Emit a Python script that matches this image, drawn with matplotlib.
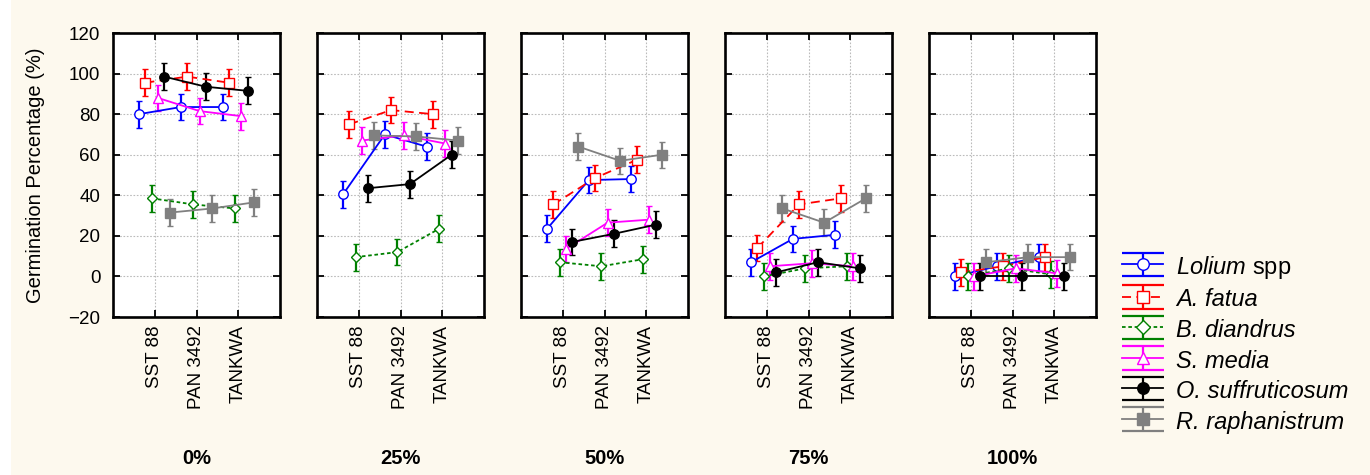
import numpy as np
import matplotlib
matplotlib.use("Agg")
import matplotlib.pyplot as plt
from matplotlib.container import ErrorbarContainer
from matplotlib.legend_handler import HandlerErrorbar
from matplotlib.patches import Rectangle

plt.rcParams['font.family'] = ['Liberation Sans', 'DejaVu Sans']
plt.rcParams['mathtext.fontset'] = 'custom'
plt.rcParams['mathtext.it'] = 'Liberation Sans:italic'
plt.rcParams['mathtext.rm'] = 'Liberation Sans'

# cultivars on the x axis, one panel per concentration
cultivars = ['SST 88', 'PAN 3492', 'TANKWA']
panels = ['0%', '25%', '50%', '75%', '100%']

species = [r'$\mathit{Lolium}$ spp', 'A. fatua', 'B. diandrus',
           'S. media', 'O. suffruticosum', 'R. raphanistrum']

# mean germination (%) per species, rows = panels, cols = cultivars
lolium = [[80, 83.5, 83.5], [40.5, 70, 64], [23.5, 47.5, 48], [7, 18.5, 20.5], [0, 5, 9.5]]
fatua = [[95.5, 98.5, 95.5], [75, 82, 80], [35.5, 48.5, 57.5], [14, 35.5, 38.5], [2, 5, 9.5]]
diandrus = [[38.5, 35.5, 33.5], [9.5, 12, 23.5], [7, 5, 8.5], [0, 4, 5], [0, 4, 1]]
media = [[88, 81.5, 79], [67, 69.5, 65.5], [13.5, 26.5, 28], [5, 6.5, 5], [0, 4, 1.5]]
suffrut = [[98.5, 93.5, 91.5], [43.5, 45.5, 60], [17, 21, 25.5], [2, 7, 4], [0, 0, 0]]
raphan = [[31.5, 33.5, 36.5], [69.5, 69, 67], [64, 57, 60], [33.5, 26.5, 38.5], [7, 9.5, 9.5]]
means = [lolium, fatua, diandrus, media, suffrut, raphan]

# error bar half-widths per species
errs = [6.6, 6.6, 6.6, 6.6, 6.6, 6.5]

colors = ['#0000FF', '#FF0000', '#008000', '#FF00FF', '#000000', '#808080']
markers = ['o', 's', 'D', '^', 'o', 's']
mfc = ['white', 'white', 'white', 'white', '#000000', '#808080']
msz = [6.8, 6.8, 5.3, 6.8, 6.8, 6.8]
lstyles = ['-', (0, (5, 3)), (0, (2, 1.5)), '-', '-', '-']
offsets = np.linspace(-0.375, 0.375, 6)

fig = plt.figure(figsize=(13.7, 4.75), dpi=100)
fig.patch.set_facecolor('#FDF9EE')
fig.patches.append(Rectangle((0, 0), 11 / 1370, 1, transform=fig.transFigure,
                             facecolor='white', edgecolor='none', zorder=0))

W, H = 1370, 475
lefts = [113, 317, 521, 725, 929]
x = np.arange(1, 4)
axes = []
for p, left in enumerate(lefts):
    ax = fig.add_axes([left / W, (H - 317) / H, 167 / W, 284 / H])
    ax.set_facecolor('white')
    for s in range(6):
        y = means[s][p]
        ax.errorbar(x + offsets[s], y, yerr=errs[s], color=colors[s], ls=lstyles[s],
                    lw=1.3, elinewidth=1.6, capsize=2.4, capthick=1.6,
                    marker=markers[s], ms=msz[s], mfc=mfc[s], mec=colors[s], mew=1.0,
                    zorder=3)
    ax.set_xlim(0, 4)
    ax.set_ylim(-20, 120)
    ax.set_yticks(np.arange(-20, 121, 20))
    ax.set_xticks(x)
    ax.set_xticklabels(cultivars, rotation=90, fontsize=13.5)
    ax.grid(True, ls=(0, (1.5, 1.5)), color='#BBBBBB', lw=0.8)
    ax.tick_params(direction='in', length=5, width=1.3, top=True, right=True, labelsize=13.5)
    ax.tick_params(axis='y', pad=9)
    ax.tick_params(axis='x', pad=6)
    for sp in ax.spines.values():
        sp.set_linewidth(1.9)
    if p > 0:
        ax.set_yticklabels([])
    else:
        ax.set_ylabel('Germination Percentage (%)', fontsize=14.5)
        ax.yaxis.set_label_coords((45 - left) / 167, 0.5)
    fig.text((left + 83.5) / W, (H - 458) / H, panels[p], ha='center', va='center',
             fontsize=14.5, fontweight='bold')
    axes.append(ax)

# legend proxies with wide caps like the original
handles = []
for s in range(6):
    h = axes[-1].errorbar([np.nan], [np.nan], yerr=[1], color=colors[s], ls=lstyles[s],
                          lw=1.3, elinewidth=1.6, capsize=15, capthick=1.6,
                          marker=markers[s], ms=msz[s] + 1.5, mfc=mfc[s], mec=colors[s],
                          label=species[s])
    handles.append(h)

leg = fig.legend(handles=handles, labels=species, loc='upper left',
                 bbox_to_anchor=(1122 / W, (H - 254) / H), frameon=False, fontsize=17,
                 borderpad=0, borderaxespad=0,
                 handlelength=1.75, handleheight=1.1, labelspacing=0.26, handletextpad=0.55,
                 handler_map={ErrorbarContainer: HandlerErrorbar(yerr_size=0.5)})
for t in leg.get_texts()[1:]:
    t.set_style('italic')

fig.savefig('out.png', dpi=100, facecolor=fig.get_facecolor())
